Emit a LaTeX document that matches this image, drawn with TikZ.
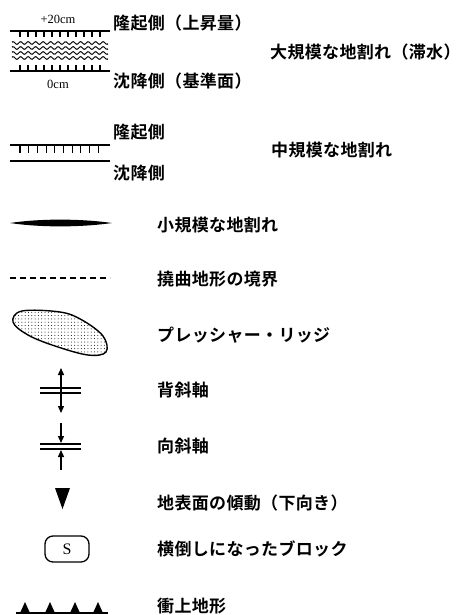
\documentclass[tikz,border=0pt]{standalone}
\usepackage{fontspec}
\setmainfont{Liberation Serif}
\newfontfamily\jp{Noto Sans CJK JP}[UprightFont=* Bold, LetterSpace=2]
\usetikzlibrary{arrows.meta}
\begin{document}
\begin{tikzpicture}[x=1pt,y=-1pt,
  lbl/.style={anchor=west,inner sep=0pt,font=\jp\fontsize{17}{19}\selectfont},
  cmlbl/.style={inner sep=0pt,font=\fontsize{12.5}{13}\selectfont},
  sym/.style={line width=1.3pt},
  tk/.style={line width=1.1pt},
  arr/.style={line width=1.4pt,-{Triangle[length=7pt,width=6pt]}}]
\useasboundingbox (0,0) rectangle (466,615);
% ---- item 1: large fissure
\node[cmlbl] (p20) at (58,19) {+20cm};
\node[cmlbl] (z0) at (58,84) {0cm};
\draw[sym] (10,31) -- (110,31);
\foreach \i in {0,...,10} \draw[tk] ({20+8*\i},31) -- ({20+8*\i},37);
\foreach \r in {43,48,53,58}
  \draw[line width=1pt] plot[domain=12:108,samples=120] (\x,{\r+1.3*sin(\x*48)});
\foreach \i in {0,...,10} \draw[tk] ({20+8*\i},65) -- ({20+8*\i},71);
\draw[sym] (10,71) -- (110,71);
\node[lbl] (l1a) at (113,23) {隆起側（上昇量）};
\node[lbl] (l1b) at (113,81) {沈降側（基準面）};
\node[lbl] (l1) at (270,52) {大規模な地割れ（滞水）};
% ---- item 2: medium fissure
\draw[sym] (10,145) -- (110,145);
\foreach \i in {0,...,9} \draw[tk] ({20+8.7*\i},145) -- ({20+8.7*\i},153);
\draw[sym] (10,161) -- (110,161);
\node[lbl] (l2a) at (113,132) {隆起側};
\node[lbl] (l2b) at (113,173) {沈降側};
\node[lbl] (l2) at (271,150) {中規模な地割れ};
% ---- item 3: small fissure
\fill (10,223) .. controls (40,218.5) and (80,218.5) .. (112,223)
      .. controls (80,227.5) and (40,227.5) .. (10,223);
\node[lbl] (l3) at (157,225) {小規模な地割れ};
% ---- item 4: flexure boundary
\draw[line width=1.1pt,dash pattern=on 6pt off 4pt] (10,278) -- (110,278);
\node[lbl] (l4) at (157,279) {撓曲地形の境界};
% ---- item 5: pressure ridge
\begin{scope}
\clip plot[smooth cycle,tension=0.6] coordinates {(13,322) (22,311) (60,312) (82,320) (103,336) (106,352) (88,355) (55,346) (28,335)};
\foreach \xx in {12,15.3,...,110} \foreach \yy in {309,312.3,...,357}
  \fill (\xx,\yy) circle (0.5);
\end{scope}
\draw[line width=1.4pt] plot[smooth cycle,tension=0.6] coordinates {(13,322) (22,311) (60,312) (82,320) (103,336) (106,352) (88,355) (55,346) (28,335)};
\node[lbl] (l5) at (157,335) {プレッシャー・リッジ};
% ---- item 6: anticline
\draw[sym] (40,388) -- (81,388);
\draw[sym] (40,393) -- (81,393);
\coordinate (ac) at (61,390.5);
\coordinate (at) at (61,368);
\coordinate (ab) at (61,413);
\draw[arr] (ac) -- (at);
\draw[arr] (ac) -- (ab);
\node[lbl] (l6) at (157,390) {背斜軸};
% ---- item 7: syncline
\draw[sym] (40,444) -- (81,444);
\draw[sym] (40,449) -- (81,449);
\coordinate (st) at (61,423);
\coordinate (sb) at (61,470);
\coordinate (su) at (61,443);
\coordinate (sd) at (61,450);
\draw[arr] (st) -- (su);
\draw[arr] (sb) -- (sd);
\node[lbl] (l7) at (157,446) {向斜軸};
% ---- item 8: tilt
\fill (55,488) -- (70,488) -- (62.5,509) -- cycle;
\node[lbl] (l8) at (157,503) {地表面の傾動（下向き）};
% ---- item 9: toppled block
\node[draw,line width=1.3pt,rounded corners=8pt,minimum width=44pt,minimum height=26pt,inner sep=0pt,font=\fontsize{16}{17}\selectfont] (sblk) at (67,549) {S};
\node[lbl] (l9) at (157,549) {横倒しになったブロック};
% ---- item 10: thrust
\draw[sym] (16,613) -- (108,613);
\foreach \c in {25,50,75,98} \fill (\c-5,613) -- (\c,602) -- (\c+5,613) -- cycle;
\node[lbl] (l10) at (157,606) {衝上地形};
\end{tikzpicture}
\end{document}
